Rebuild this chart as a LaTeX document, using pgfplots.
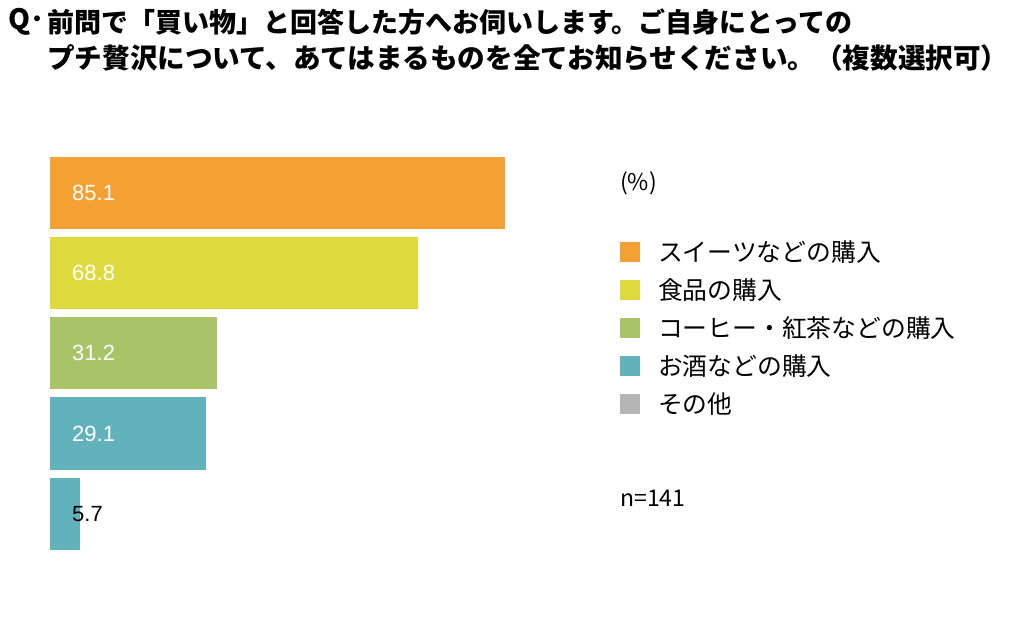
\documentclass[border=0pt]{standalone}
\usepackage{fontspec}
\usepackage{pgfplots}
\pgfplotsset{compat=1.18}
\setmainfont{Noto Sans CJK JP}
\newfontfamily\numfont{Liberation Sans}
\definecolor{cOr}{HTML}{F4A033}
\definecolor{cYe}{HTML}{DEDA3E}
\definecolor{cGr}{HTML}{A8C466}
\definecolor{cTe}{HTML}{62B2BC}
\definecolor{cGy}{HTML}{B5B5B5}
\begin{document}
\begin{tikzpicture}
\path[use as bounding box] (0,0) rectangle (1024pt,640pt);
\node[anchor=west, inner sep=0pt, font=\fontsize{28}{32}\selectfont\bfseries] at (8pt,618pt) {Q･};
\node[anchor=west, inner sep=0pt, font=\fontsize{27}{32}\selectfont\bfseries] at (47pt,618pt) {前問で「買い物」と回答した方へお伺いします。ご自身にとっての};
\node[anchor=west, inner sep=0pt, font=\fontsize{27.6}{32}\selectfont\bfseries] at (47pt,582pt) {プチ贅沢について、あてはまるものを全てお知らせください。（複数選択可）};
\node[anchor=west, inner sep=0pt, font=\fontsize{23}{28}\selectfont] at (620pt,457pt) {(\%)};
\node[anchor=west, inner sep=0pt, font=\fontsize{23}{28}\selectfont] at (620pt,142pt) {n=141};
\begin{axis}[
  at={(50pt,86pt)}, anchor=south west,
  scale only axis, width=455pt, height=401.5pt,
  xmin=0, xmax=85.1, ymin=-0.5, ymax=4.5, y dir=reverse,
  axis lines=none, clip=false,
  bar width=0.9,
  legend image code/.code={\fill[draw=none,#1] (0pt,-7pt) rectangle (20pt,13pt);},
  legend style={at={(axis description cs:1.2527,0.777)}, anchor=north west,
    draw=none, fill=none, inner sep=0pt, column sep=18pt, row sep=12.4pt,
    font=\fontsize{24.8}{28}\selectfont,
    nodes={inner sep=0pt, text height=19pt, text depth=6pt}},
  legend cell align=left,
]
\addplot[xbar, bar shift=0pt, fill=cOr, draw=none, forget plot] coordinates {(85.1,0)};
\addplot[xbar, bar shift=0pt, fill=cYe, draw=none, forget plot] coordinates {(68.8,1)};
\addplot[xbar, bar shift=0pt, fill=cGr, draw=none, forget plot] coordinates {(31.2,2)};
\addplot[xbar, bar shift=0pt, fill=cTe, draw=none, forget plot] coordinates {(29.1,3)};
\addplot[xbar, bar shift=0pt, fill=cTe, draw=none, forget plot] coordinates {(5.7,4)};
\addplot[draw=none, mark=none, forget plot, nodes near coords, point meta=explicit symbolic,
  every node near coord/.style={anchor=west, inner sep=0pt, text=white, font=\numfont\fontsize{22}{26}\selectfont}]
  coordinates {(4.115,0)[85.1] (4.115,1)[68.8] (4.115,2)[31.2] (4.115,3)[29.1]};
\addplot[draw=none, mark=none, forget plot, nodes near coords, point meta=explicit symbolic,
  every node near coord/.style={anchor=west, inner sep=0pt, text=black, font=\numfont\fontsize{22}{26}\selectfont}]
  coordinates {(4.115,4)[5.7]};
\addlegendimage{fill=cOr}
\addlegendimage{fill=cYe}
\addlegendimage{fill=cGr}
\addlegendimage{fill=cTe}
\addlegendimage{fill=cGy}
\legend{スイーツなどの購入, 食品の購入, コーヒー・紅茶などの購入, お酒などの購入, その他}
\end{axis}
\end{tikzpicture}
\end{document}
